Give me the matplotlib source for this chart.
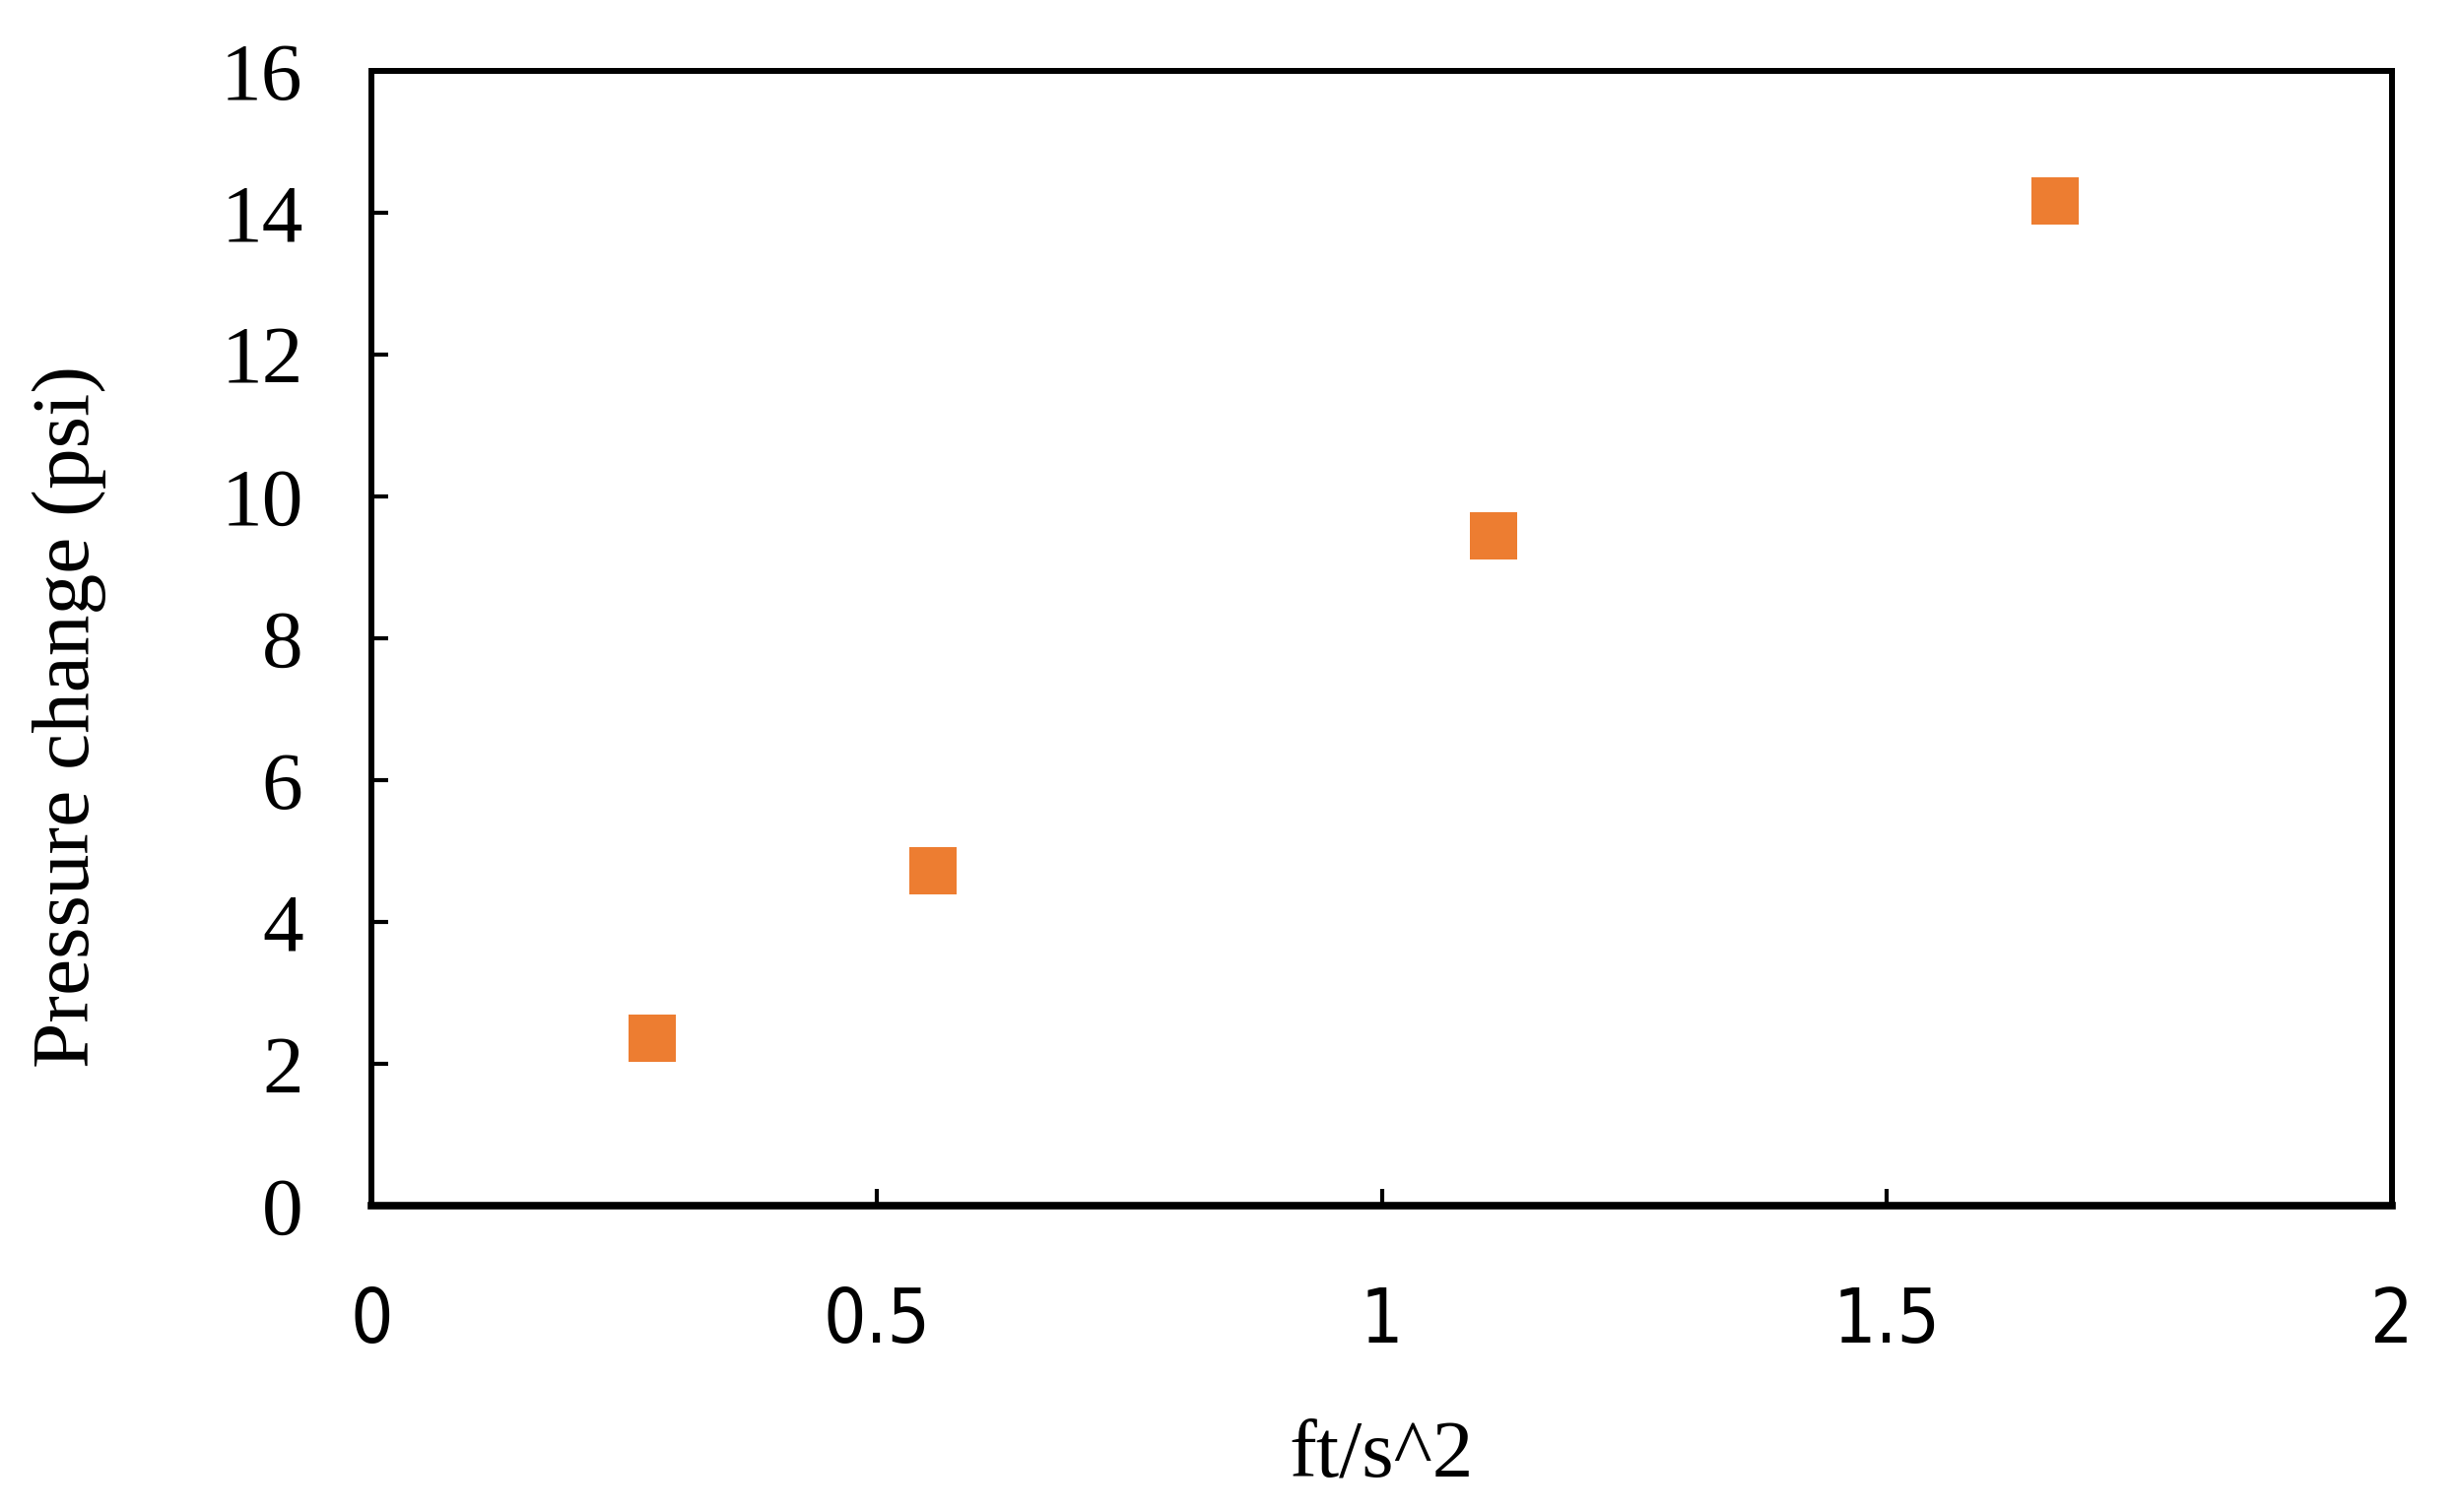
import matplotlib
matplotlib.use("Agg")
from matplotlib import pyplot as plt

# datos
aceleracion = [0.2778, 0.5556, 1.1111, 1.6667]
presion = [2.36, 4.72, 9.44, 14.17]

xticks = [0, 0.5, 1, 1.5, 2]
xticklabels = ["0", "0.5", "1", "1.5", "2"]
yticks = [0, 2, 4, 6, 8, 10, 12, 14, 16]

fig = plt.figure(figsize=(24.96, 15.35), dpi=100)
ax = fig.add_axes([377/2496, 1 - 1224/1535, (2428-377)/2496, (1224-72)/1535])

ax.plot(aceleracion, presion, linestyle="none", marker="s", markersize=34,
        color="#ED7D31", markeredgewidth=0)

ax.set_xlim(0, 2)
ax.set_ylim(0, 16)
ax.set_xticks(xticks)
ax.set_xticklabels(xticklabels, family="DejaVu Sans", fontstretch="condensed", fontsize=55)
ax.set_yticks(yticks)
ax.set_yticklabels([str(v) for v in yticks], family="Liberation Serif", fontsize=60)

for s in ax.spines.values():
    s.set_linewidth(4.3)
    s.set_color("black")
ax.spines["bottom"].set_linewidth(5.5)

ax.tick_params(axis="y", direction="in", length=12, width=3, pad=50)
ax.tick_params(axis="x", direction="in", length=12, width=3, pad=58)

ax.set_xlabel("ft/s^2", family="Liberation Serif", fontsize=60, labelpad=45)
ax.set_ylabel("Pressure change (psi)", family="Liberation Serif", fontsize=60)
ax.yaxis.set_label_coords(-0.131, 0.431)

fig.savefig("out.png", dpi=100, facecolor="white")
